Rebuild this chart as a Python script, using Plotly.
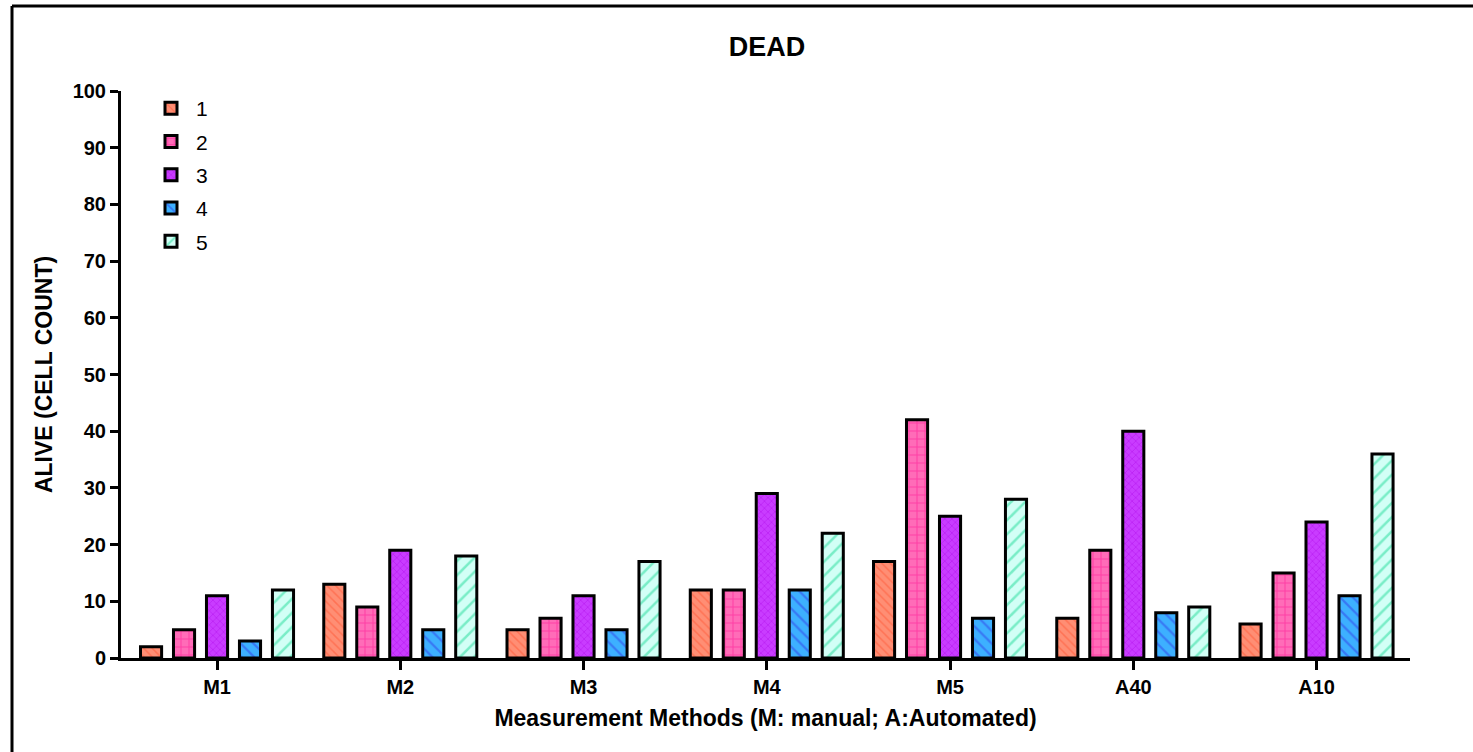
import plotly.graph_objects as go

categories = ["M1", "M2", "M3", "M4", "M5", "A40", "A10"]
series_names = ["1", "2", "3", "4", "5"]
values = {
    "1": [2, 13, 5, 12, 17, 7, 6],
    "2": [5, 9, 7, 12, 42, 19, 15],
    "3": [11, 19, 11, 29, 25, 40, 24],
    "4": [3, 5, 5, 12, 7, 8, 11],
    "5": [12, 18, 17, 22, 28, 9, 36],
}
y_ticks = list(range(0, 101, 10))

# fill colour, hatch colour, hatch shape, hatch size per series
styles = {
    "1": ("#FF8E74", "#FF5533", "\\", 6),
    "2": ("#FF6CB8", "#FF1493", "+", 8),
    "3": ("#C93CFF", "#A800E6", "x", 5),
    "4": ("#3DB0FF", "#3340E8", "\\", 9),
    "5": ("#D2FFF6", "#1FDB98", "/", 10),
}

fig = go.Figure()
for name in series_names:
    bg, fg, shape, size = styles[name]
    fig.add_trace(go.Bar(
        x=categories, y=values[name], name=name, legendgroup=name,
        marker=dict(
            color=bg,
            line=dict(color="black", width=3),
            pattern=dict(shape=shape, fgcolor=fg, bgcolor=bg,
                         fillmode="overlay", size=size, solidity=0.25),
        ),
    ))

W, H = 1473, 752
L, R, T, B = 121, 63, 91, 94
pw, ph = W - L - R, H - T - B

def px(x):
    return (x - L) / pw

def py(y):
    return (H - B - y) / ph

font = "Liberation Sans, Arial, sans-serif"

fig.update_layout(
    width=W, height=H,
    margin=dict(l=L, r=R, t=T, b=B),
    paper_bgcolor="white", plot_bgcolor="white",
    barmode="group", bargap=0.1, bargroupgap=0.36,
    font=dict(family=font, color="black"),
    title=dict(text="<b>DEAD</b>", xref="container", x=767 / W,
               xanchor="center", y=1 - 47 / H, yanchor="middle",
               font=dict(size=27, family=font, color="black")),
    xaxis=dict(
        range=[-0.524, 6.51],
        showline=True, linecolor="black", linewidth=3,
        ticks="outside", ticklen=9, tickwidth=3, tickcolor="black",
        tickfont=dict(size=20, family=font),
        tickvals=categories,
        ticktext=[f"<b>{c}</b>" for c in categories],
        showgrid=False, zeroline=False,
        title=dict(text="<b>Measurement Methods (M: manual; A:Automated)</b>",
                   font=dict(size=23, family=font), standoff=13),
    ),
    yaxis=dict(
        range=[0, 100],
        showline=True, linecolor="black", linewidth=3,
        ticks="outside", ticklen=8, tickwidth=3, tickcolor="black",
        tickvals=y_ticks, ticktext=[f"<b>{v}</b>" for v in y_ticks],
        tickfont=dict(size=20, family=font),
        showgrid=False, zeroline=False,
        title=dict(text="<b>ALIVE (CELL COUNT)</b>",
                   font=dict(size=23, family=font), standoff=14),
    ),
    legend=dict(
        x=px(146), y=py(88), xanchor="left", yanchor="top",
        font=dict(size=21, family=font),
        bgcolor="rgba(0,0,0,0)", tracegroupgap=3,
        itemwidth=40,
    ),
    shapes=[
        dict(type="line", xref="paper", yref="paper",
             x0=px(12), x1=px(12), y0=py(6), y1=py(H + 5),
             line=dict(color="black", width=3)),
        dict(type="line", xref="paper", yref="paper",
             x0=px(12), x1=px(W + 5), y0=py(6), y1=py(6),
             line=dict(color="black", width=3)),
    ],
)

fig.write_html("out.html")
